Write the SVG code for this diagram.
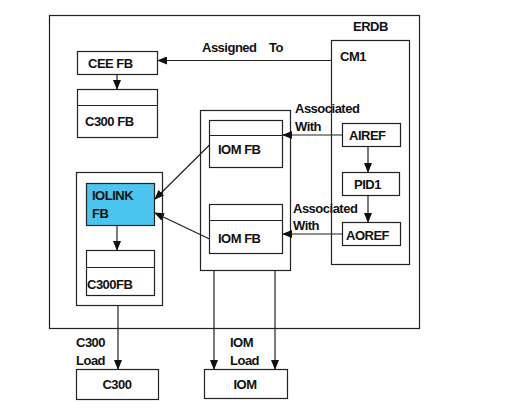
<svg xmlns="http://www.w3.org/2000/svg" width="507" height="417" viewBox="0 0 507 417">
<style>
.b{fill:#fff;stroke:#222;stroke-width:1.2}
.t{font-family:"Liberation Sans",Arial,sans-serif;font-weight:bold;font-size:13px;fill:#111;letter-spacing:-0.5px}
.c{fill:none;stroke:#222;stroke-width:1.2}
</style>
<defs>
<marker id="a" markerWidth="10" markerHeight="8" refX="9" refY="4" orient="auto" markerUnits="userSpaceOnUse">
<path d="M0,0 L10,4 L0,8 Z" fill="#111"/>
</marker>
</defs>
<rect width="507" height="417" fill="#fff"/>
<g id="erdb">
<rect class="b" x="49.5" y="15.5" width="370" height="313"/>
<text class="t" x="353" y="31">ERDB</text>
</g>
<g id="cm1">
<rect class="b" x="331.5" y="40.5" width="78" height="224"/>
<text class="t" x="340" y="61">CM1</text>
</g>
<g id="ceefb">
<rect class="b" x="77.5" y="51.5" width="80" height="23"/>
<text class="t" x="88" y="68">CEE FB</text>
</g>
<g id="c300fb1">
<rect class="b" x="77.5" y="89.5" width="80" height="48"/>
<line class="c" x1="77.5" y1="105.5" x2="157.5" y2="105.5"/>
<text class="t" x="85" y="126">C300 FB</text>
</g>
<g id="iomcol">
<rect class="b" x="200.5" y="110.5" width="90" height="160"/>
</g>
<g id="iomfb1">
<rect class="b" x="209.5" y="120.5" width="73" height="47"/>
<line class="c" x1="209.5" y1="135.5" x2="282.5" y2="135.5"/>
<text class="t" x="218" y="154">IOM FB</text>
</g>
<g id="iomfb2">
<rect class="b" x="209.5" y="204.5" width="73" height="49"/>
<line class="c" x1="209.5" y1="220.5" x2="282.5" y2="220.5"/>
<text class="t" x="218" y="243">IOM FB</text>
</g>
<g id="iolinkcol">
<rect class="b" x="76.5" y="172.5" width="86" height="133"/>
</g>
<g id="iolinkfb">
<rect x="86.5" y="183.5" width="68" height="42" fill="#4BC5F0" stroke="#222" stroke-width="1.2"/>
<text class="t" x="92" y="200">IOLINK</text>
<text class="t" x="92" y="218">FB</text>
</g>
<g id="c300fb2">
<rect class="b" x="86.5" y="250.5" width="68" height="45"/>
<line class="c" x1="86.5" y1="267.5" x2="154.5" y2="267.5"/>
<text class="t" x="87" y="289">C300FB</text>
</g>
<g id="airef">
<rect class="b" x="342.5" y="123.5" width="58" height="23"/>
<text class="t" x="349" y="140">AIREF</text>
</g>
<g id="pid1">
<rect class="b" x="342.5" y="172.5" width="57" height="23"/>
<text class="t" x="354" y="189">PID1</text>
</g>
<g id="aoref">
<rect class="b" x="342.5" y="222.5" width="58" height="23"/>
<text class="t" x="346" y="240">AOREF</text>
</g>
<g id="c300">
<rect class="b" x="76.5" y="369.5" width="82" height="30"/>
<text class="t" x="117" y="389" text-anchor="middle">C300</text>
</g>
<g id="iom">
<rect class="b" x="204.5" y="369.5" width="83" height="29"/>
<text class="t" x="245" y="389" text-anchor="middle">IOM</text>
</g>
<g id="connectors">
<line class="c" x1="331.5" y1="60.5" x2="158" y2="60.5" marker-end="url(#a)"/>
<text class="t" x="202" y="52" xml:space="preserve">Assigned    To</text>
<line class="c" x1="117" y1="74.5" x2="117" y2="89" marker-end="url(#a)"/>
<line class="c" x1="342.5" y1="135" x2="283" y2="135" marker-end="url(#a)"/>
<text class="t" x="295" y="113">Associated</text>
<text class="t" x="295" y="131">With</text>
<line class="c" x1="342.5" y1="234" x2="283" y2="234" marker-end="url(#a)"/>
<text class="t" x="293" y="213">Associated</text>
<text class="t" x="293" y="230">With</text>
<line class="c" x1="368" y1="146.5" x2="368" y2="172" marker-end="url(#a)"/>
<line class="c" x1="368" y1="195.5" x2="368" y2="222" marker-end="url(#a)"/>
<line class="c" x1="209.5" y1="145" x2="155" y2="199" marker-end="url(#a)"/>
<line class="c" x1="209.5" y1="239" x2="155" y2="213" marker-end="url(#a)"/>
<line class="c" x1="117" y1="225.5" x2="117" y2="250" marker-end="url(#a)"/>
<line class="c" x1="118" y1="305.5" x2="118" y2="369" marker-end="url(#a)"/>
<text class="t" x="76" y="347">C300</text>
<text class="t" x="76" y="365">Load</text>
<line class="c" x1="214" y1="270.5" x2="214" y2="369" marker-end="url(#a)"/>
<line class="c" x1="275" y1="270.5" x2="275" y2="369" marker-end="url(#a)"/>
<text class="t" x="230" y="347">IOM</text>
<text class="t" x="230" y="365">Load</text>
</g>
</svg>
